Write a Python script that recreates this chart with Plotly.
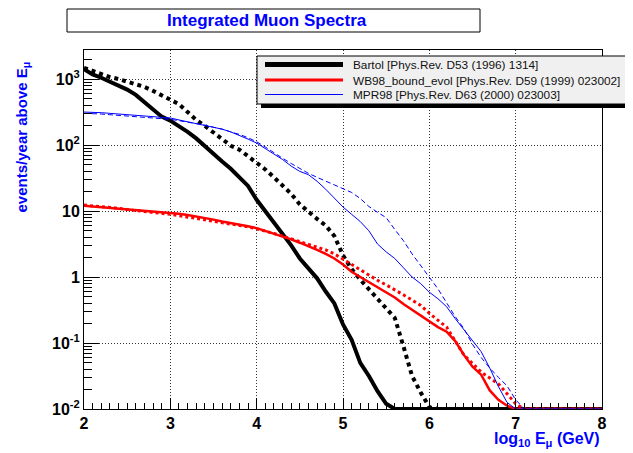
import plotly.graph_objects as go

# ---------------- data ----------------
log_e = [2.0, 2.1, 2.2, 2.3, 2.4, 2.5, 2.6, 2.7, 2.8, 2.9,
         3.0, 3.1, 3.2, 3.3, 3.4, 3.5, 3.6, 3.7, 3.8, 3.9,
         4.0, 4.1, 4.2, 4.3, 4.4, 4.5, 4.6, 4.7, 4.8, 4.9,
         5.0, 5.1, 5.2, 5.3, 5.4, 5.5, 5.6, 5.7, 5.8, 5.9,
         6.0, 6.1, 6.2, 6.3, 6.4, 6.5, 6.6, 6.7, 6.8, 6.9,
         7.0, 7.1, 7.2, 7.3, 7.4, 7.5, 7.6, 7.7, 7.8, 7.9, 8.0]

bartol_solid = [1413, 1175, 1047, 912, 794, 692, 575, 447, 339, 269,
                234, 195, 158, 126, 95.5, 72.4, 56.2, 43.7, 33.1, 24.0,
                14.8, 10.0, 6.61, 4.37, 3.02, 1.91, 1.32, 0.955, 0.603, 0.398,
                0.191, 0.112, 0.050, 0.0316, 0.0186, 0.0120, 0.01, 0.01, 0.01, 0.01,
                0.01, 0.01, 0.01, 0.01, 0.01, 0.01, 0.01, 0.01, 0.01, 0.01,
                0.01, 0.01, 0.01, 0.01, 0.01, 0.01, 0.01, 0.01, 0.01, 0.01, 0.01]

bartol_dotted = [1479, 1318, 1175, 1072, 1000, 912, 851, 759, 661, 562,
                 490, 417, 316, 240, 195, 155, 123, 97.7, 85.1, 67.6,
                 55.0, 42.7, 32.4, 24.5, 18.2, 12.6, 9.55, 7.59, 6.03, 4.17,
                 2.14, 1.32, 0.912, 0.661, 0.468, 0.339, 0.240, 0.0891, 0.0316, 0.0178,
                 0.0107, 0.01, 0.01, 0.01, 0.01, 0.01, 0.01, 0.01, 0.01, 0.01,
                 0.01, 0.01, 0.01, 0.01, 0.01, 0.01, 0.01, 0.01, 0.01, 0.01, 0.01]

wb98_solid = [12.0, 11.7, 11.5, 11.2, 11.0, 10.7, 10.5, 10.2, 10.0, 9.77,
              9.55, 9.12, 8.71, 8.32, 7.76, 7.41, 6.92, 6.61, 6.17, 5.89,
              5.50, 5.01, 4.57, 4.07, 3.72, 3.31, 2.95, 2.57, 2.24, 1.91,
              1.55, 1.20, 1.0, 0.832, 0.692, 0.575, 0.490, 0.389, 0.316, 0.257,
              0.209, 0.174, 0.148, 0.107, 0.0661, 0.0437, 0.0331, 0.0191, 0.0138, 0.0112,
              0.01, 0.01, 0.01, 0.01, 0.01, 0.01, 0.01, 0.01, 0.01, 0.01, 0.01]

wb98_dotted = [12.3, 12.0, 11.7, 11.5, 11.0, 10.5, 10.2, 9.77, 9.55, 9.12,
               8.91, 8.51, 8.13, 7.59, 7.24, 6.92, 6.61, 6.31, 6.03, 5.75,
               5.37, 5.01, 4.57, 4.17, 3.80, 3.47, 3.16, 2.88, 2.57, 2.24,
               1.86, 1.55, 1.29, 1.07, 0.891, 0.759, 0.646, 0.537, 0.447, 0.372,
               0.282, 0.219, 0.174, 0.107, 0.0661, 0.0490, 0.0363, 0.0295, 0.0240, 0.0170,
               0.0120, 0.01, 0.01, 0.01, 0.01, 0.01, 0.01, 0.01, 0.01, 0.01, 0.01]

mpr98_solid = [316, 316, 309, 302, 295, 288, 282, 275, 269, 263,
               257, 240, 224, 209, 200, 186, 174, 158, 141, 123,
               107, 89.1, 72.4, 60.3, 47.9, 39.8, 35.5, 28.2, 21.4, 15.8,
               11.5, 8.91, 6.92, 5.01, 3.16, 2.40, 1.91, 1.38, 1.0, 0.794,
               0.589, 0.468, 0.355, 0.234, 0.158, 0.110, 0.0741, 0.0417, 0.0219, 0.0126,
               0.01, 0.01, 0.01, 0.01, 0.01, 0.01, 0.01, 0.01, 0.01, 0.01, 0.01]

mpr98_dashed = [302, 302, 295, 288, 282, 275, 269, 263, 257, 251,
                245, 234, 224, 209, 200, 186, 174, 158, 145, 129,
                112, 93.3, 75.9, 63.1, 52.5, 43.7, 37.2, 32.4, 28.2, 25.1,
                21.9, 19.1, 15.5, 11.7, 9.55, 7.94, 5.25, 3.55, 2.24, 1.51,
                1.0, 0.661, 0.407, 0.251, 0.166, 0.0955, 0.0603, 0.0417, 0.0302, 0.0224,
                0.0138, 0.01, 0.01, 0.01, 0.01, 0.01, 0.01, 0.01, 0.01, 0.01, 0.01]

legend_labels = ["Bartol [Phys.Rev. D53 (1996) 1314]",
                 "WB98_bound_evol [Phys.Rev. D59 (1999) 023002]",
                 "MPR98 [Phys.Rev. D63 (2000) 023003]"]

x_tick_vals = [2, 3, 4, 5, 6, 7, 8]
x_tick_text = ["2", "3", "4", "5", "6", "7", "8"]
y_tick_vals = [0.01, 0.1, 1, 10, 100, 1000]
y_tick_text = ["10<sup>-2</sup>", "10<sup>-1</sup>", "1", "10",
               "10<sup>2</sup>", "10<sup>3</sup>"]

title_text = "Integrated Muon Spectra"
x_title = "log<sub>10</sub> E<sub>\u03bc</sub> (GeV)"
y_title = "events/year above E<sub>\u03bc</sub>"

# ---------------- layout helpers ----------------
OFF = 8                      # page body margin of the html page
W, H = 633 - OFF, 453 - OFF  # figure size so that it ends at the window edge
# frame position in window pixels
L, R, T, B = 84, 602, 50, 409
FONT = "Liberation Sans, Arial, Helvetica, sans-serif"
BLUE = "#0000ff"


def px(xp):
    return (xp - L) / (R - L)


def py(yp):
    return (B - yp) / (B - T)


fig = go.Figure()

series = [
    (bartol_solid, "black", 4, "solid"),
    (bartol_dotted, "black", 4, "dot"),
    (wb98_solid, "#ff0000", 2.5, "solid"),
    (wb98_dotted, "#ff0000", 3, "dot"),
    (mpr98_solid, "#0000ff", 1, "solid"),
    (mpr98_dashed, "#0000ff", 1, "5px,3px"),
]
for vals, col, w, dash in series:
    fig.add_trace(go.Scatter(x=log_e, y=vals, mode="lines",
                             line=dict(color=col, width=w, dash=dash),
                             showlegend=False, hoverinfo="skip"))

minor_y = [m * 10 ** e for e in range(-2, 4) for m in range(2, 10)]

fig.update_layout(
    width=W, height=H,
    margin=dict(l=L - OFF, r=W - (R - OFF), t=T - OFF, b=H - (B - OFF), pad=0),
    paper_bgcolor="white", plot_bgcolor="white",
    font=dict(family=FONT, color="black"),
    xaxis=dict(range=[2, 8], tickmode="array", tickvals=x_tick_vals, ticktext=x_tick_text,
               ticks="inside", ticklen=11, tickwidth=1, tickcolor="black",
               showline=True, linecolor="black", linewidth=1, mirror=True,
               showgrid=True, gridcolor="#333333", gridwidth=1, griddash="1px,2px",
               zeroline=False,
               tickfont=dict(family=FONT, size=16, color="black", weight="bold"),
               minor=dict(ticks="inside", ticklen=6, tickcolor="black", dtick=0.1,
                          showgrid=False)),
    yaxis=dict(type="log", range=[-2, 3.44], tickmode="array", tickvals=y_tick_vals,
               ticktext=y_tick_text,
               ticks="inside", ticklen=15, tickwidth=1, tickcolor="black",
               showline=True, linecolor="black", linewidth=1, mirror=True,
               showgrid=True, gridcolor="#333333", gridwidth=1, griddash="1px,2px",
               zeroline=False,
               tickfont=dict(family=FONT, size=16, color="black", weight="bold"),
               minor=dict(tickmode="array", tickvals=minor_y, ticks="inside", ticklen=8,
                          tickcolor="black", showgrid=False)),
)

shapes = []
annotations = []

# title box
shapes.append(dict(type="rect", xref="paper", yref="paper",
                   x0=px(67), x1=px(480), y0=py(32), y1=py(9),
                   line=dict(color="black", width=1), fillcolor="white", layer="above"))
annotations.append(dict(text="<b>%s</b>" % title_text, xref="paper", yref="paper",
                        x=px(267), y=py(20.5), xanchor="center", yanchor="middle",
                        showarrow=False, font=dict(family=FONT, size=17, color=BLUE)))

# axis titles
annotations.append(dict(text="<b>%s</b>" % x_title, xref="paper", yref="paper",
                        x=px(602), y=py(439), xanchor="right", yanchor="middle",
                        showarrow=False, font=dict(family=FONT, size=16, color=BLUE)))
annotations.append(dict(text="<b>%s</b>" % y_title, xref="paper", yref="paper",
                        x=px(22), y=py(60), xanchor="center", yanchor="top",
                        textangle=-90, showarrow=False,
                        font=dict(family=FONT, size=15, color=BLUE)))

# legend box with shadow
shapes.append(dict(type="rect", xref="paper", yref="paper",
                   x0=px(261), x1=px(650), y0=py(108), y1=py(60),
                   line=dict(width=0), fillcolor="black", layer="above"))
shapes.append(dict(type="rect", xref="paper", yref="paper",
                   x0=px(257), x1=px(645), y0=py(104), y1=py(56),
                   line=dict(color="black", width=1), fillcolor="#f0f0f0", layer="above"))

legend_rows = [(64.5, "black", 5), (80, "#ff0000", 3), (94.5, "#0000ff", 1)]
for (yy, col, w), lab in zip(legend_rows, legend_labels):
    shapes.append(dict(type="line", xref="paper", yref="paper",
                       x0=px(265), x1=px(343), y0=py(yy), y1=py(yy),
                       line=dict(color=col, width=w), layer="above"))
    annotations.append(dict(text=lab, xref="paper", yref="paper",
                            x=px(351), y=py(yy + 0.5), xanchor="left", yanchor="middle",
                            showarrow=False,
                            font=dict(family=FONT, size=11.8, color="#111111")))

fig.update_layout(shapes=shapes, annotations=annotations)

fig.write_html("out.html")
